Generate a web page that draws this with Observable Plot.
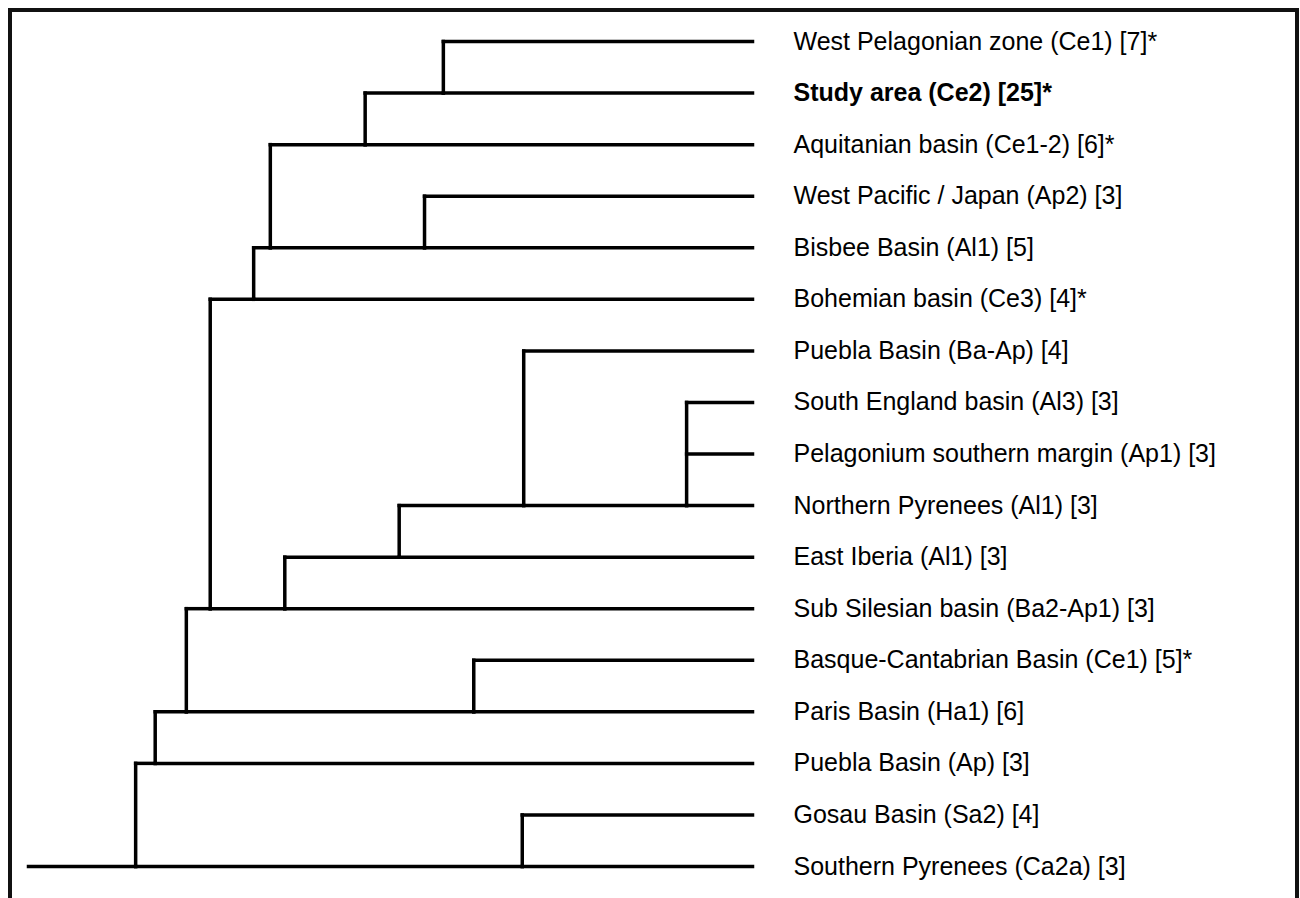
<!DOCTYPE html>
<html>
<head>
<meta charset="utf-8">
<script src="https://cdn.jsdelivr.net/npm/d3@7"></script>
<script src="https://cdn.jsdelivr.net/npm/@observablehq/plot@0.6"></script>
<style>
  html, body { margin: 0; padding: 0; background: #fff; overflow: hidden; }
  #wrap { position: relative; width: 1300px; height: 898px; }
  #frame { position: absolute; left: 8px; top: 8px; width: 1283px; height: 900px;
           border-top: 4px solid #111; border-left: 4px solid #111; border-right: 4px solid #111; }
  #chart { position: absolute; left: 0; top: 0; }
</style>
</head>
<body>
<div id="wrap"><div id="frame"></div><div id="chart"></div></div>
<script>
// Leaves, top to bottom
const leaves = [
  "West Pelagonian zone (Ce1) [7]*",
  "Study area (Ce2) [25]*",
  "Aquitanian basin (Ce1-2) [6]*",
  "West Pacific / Japan (Ap2) [3]",
  "Bisbee Basin (Al1) [5]",
  "Bohemian basin (Ce3) [4]*",
  "Puebla Basin (Ba-Ap) [4]",
  "South England basin (Al3) [3]",
  "Pelagonium southern margin (Ap1) [3]",
  "Northern Pyrenees (Al1) [3]",
  "East Iberia (Al1) [3]",
  "Sub Silesian basin (Ba2-Ap1) [3]",
  "Basque-Cantabrian Basin (Ce1) [5]*",
  "Paris Basin (Ha1) [6]",
  "Puebla Basin (Ap) [3]",
  "Gosau Basin (Sa2) [4]",
  "Southern Pyrenees (Ca2a) [3]"
];
const boldLeaf = "Study area (Ce2) [25]*";

// Internal merges (clusters): id, children, linkage level (0 = root base, 1 = leaves)
const mergeIds = ["A","B","C","D","E","G","H","I","J","F","L","K","M","N","O"];
const mergeChildren = [
  ["West Pelagonian zone (Ce1) [7]*", "Study area (Ce2) [25]*"],
  ["A", "Aquitanian basin (Ce1-2) [6]*"],
  ["West Pacific / Japan (Ap2) [3]", "Bisbee Basin (Al1) [5]"],
  ["B", "C"],
  ["D", "Bohemian basin (Ce3) [4]*"],
  ["South England basin (Al3) [3]", "Pelagonium southern margin (Ap1) [3]", "Northern Pyrenees (Al1) [3]"],
  ["Puebla Basin (Ba-Ap) [4]", "G"],
  ["H", "East Iberia (Al1) [3]"],
  ["I", "Sub Silesian basin (Ba2-Ap1) [3]"],
  ["E", "J"],
  ["Basque-Cantabrian Basin (Ce1) [5]*", "Paris Basin (Ha1) [6]"],
  ["F", "L"],
  ["K", "Puebla Basin (Ap) [3]"],
  ["Gosau Basin (Sa2) [4]", "Southern Pyrenees (Ca2a) [3]"],
  ["M", "N"]
];
const mergeLevels = [0.573, 0.465, 0.547, 0.334, 0.311, 0.909, 0.684, 0.512, 0.354, 0.251, 0.615, 0.218, 0.175, 0.682, 0.148];
const leafLevel = 1;
const rootBase = 0;

// Layout: leaf y = order index, internal node y = y of its last child
const pos = new Map();
leaves.forEach((name, i) => pos.set(name, {x: leafLevel, y: i}));
mergeIds.forEach((id, k) => {
  const ys = mergeChildren[k].map(c => pos.get(c).y);
  pos.set(id, {x: mergeLevels[k], y: ys[ys.length - 1], y0: ys[0]});
});

const segments = [];
mergeIds.forEach((id, k) => {
  const p = pos.get(id);
  // vertical connector
  segments.push({x1: p.x, y1: p.y0, x2: p.x, y2: p.y});
  // horizontal to each child
  mergeChildren[k].forEach(c => {
    const q = pos.get(c);
    segments.push({x1: p.x, y1: q.y, x2: q.x, y2: q.y});
  });
});
const root = pos.get(mergeIds[mergeIds.length - 1]);
segments.push({x1: rootBase, y1: root.y, x2: root.x, y2: root.y});

const labelData = leaves.map((name, i) => ({name, x: leafLevel, y: i}));

const chart = Plot.plot({
  width: 1300,
  height: 898,
  margin: 0,
  x: {domain: [0, 1], range: [28, 752], axis: null},
  y: {domain: [0, leaves.length - 1], range: [41, 866], axis: null},
  style: {fontFamily: "Arial, 'Liberation Sans', Helvetica, sans-serif", background: "transparent"},
  marks: [
    Plot.link(segments, {x1: "x1", y1: "y1", x2: "x2", y2: "y2", stroke: "#000", strokeWidth: 3.5, strokeLinecap: "square"}),
    Plot.text(labelData.filter(d => d.name !== boldLeaf), {x: "x", y: "y", text: "name", textAnchor: "start", dx: 41, fontSize: 25, fill: "#000"}),
    Plot.text(labelData.filter(d => d.name === boldLeaf), {x: "x", y: "y", text: "name", textAnchor: "start", dx: 41, fontSize: 25, fontWeight: "bold", fill: "#000"})
  ]
});
document.getElementById("chart").appendChild(chart);
</script>
</body>
</html>
